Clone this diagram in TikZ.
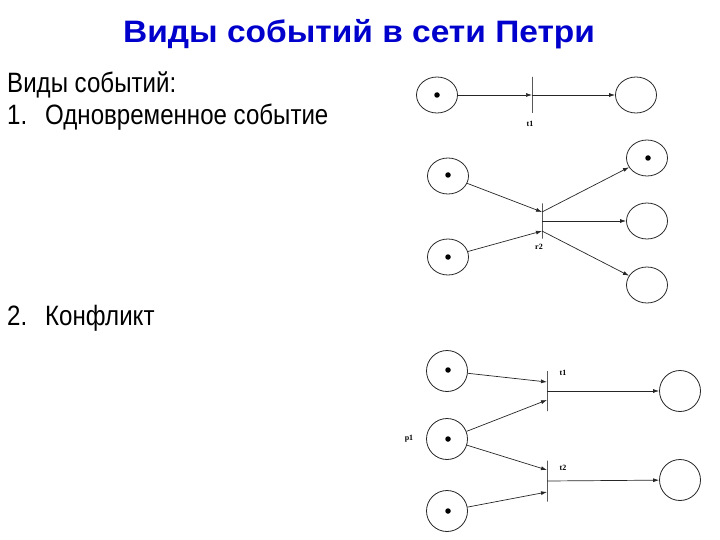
\documentclass[tikz,border=0pt]{standalone}
\usepackage{fontspec}
\setmainfont{Liberation Sans}
\newfontfamily\labfont{Liberation Serif}
\newfontfamily\bodyfont[FakeStretch=0.86]{Liberation Sans}
\newfontfamily\titlefont[FakeStretch=1.08]{Liberation Sans}
\usetikzlibrary{arrows.meta,shapes.geometric,calc}
\definecolor{titleblue}{RGB}{0,0,204}
\begin{document}
\begin{tikzpicture}[x=1pt,y=-1pt,
  place/.style={draw=black!85,line width=0.8pt,ellipse,minimum width=41pt,minimum height=36pt,inner sep=0pt},
  cplace/.style={draw=black!85,line width=0.8pt,circle,minimum size=41pt,inner sep=0pt},
  token/.style={fill=black,circle,minimum size=5.5pt,inner sep=0pt},
  bar/.style={draw=black,line width=0.8pt,rectangle,minimum width=0pt,inner sep=0pt},
  arc/.style={draw=black!85,line width=0.7pt,-{Latex[length=6pt,width=4pt]}},
  lab/.style={font=\labfont\bfseries\fontsize{8}{9}\selectfont,inner sep=0pt},
  body/.style={font=\bodyfont\fontsize{28}{32}\selectfont,anchor=base west,inner sep=0pt}]
\useasboundingbox (0,0) rectangle (720,540);
% title and text
\node[font=\titlefont\bfseries\fontsize{31}{36}\selectfont,text=titleblue,anchor=base,inner sep=0pt] (title) at (359,43) {Виды событий в сети Петри};
\node[body] (h) at (7,93) {Виды событий:};
\node[body] (n1) at (7,125) {1.};
\node[body] (s1) at (45,125) {Одновременное событие};
\node[body] (n2) at (7,325) {2.};
\node[body] (s2) at (45,325) {Конфликт};
% net 1
\node[place] (a1) at (437,95) {};
\node[token] (a1t) at (437,95) {};
\node[bar,minimum height=36pt] (t1) at (532,95) {};
\node[place] (a2) at (636,95) {};
\node[lab] (t1l) at (530,124) {t1};
\draw[arc] (a1) -- (t1.center);
\draw[arc] (t1.center) -- (a2);
% net 2
\node[place] (b1) at (448,176) {};
\node[token] (b1t) at (448,175) {};
\node[place] (b2) at (448,257) {};
\node[token] (b2t) at (448,257) {};
\node[bar,minimum height=35pt] (t2) at (542,221) {};
\node[place] (c1) at (647,158) {};
\node[token] (c1t) at (648,158) {};
\node[place] (c2) at (647,221) {};
\node[place] (c3) at (647,285) {};
\node[lab] (t2l) at (539,247) {r2};
\coordinate (t2a) at ($(t2.center)+(0,-9)$);
\coordinate (t2b) at ($(t2.center)+(0,10)$);
\draw[arc] (b1) -- (t2a);
\draw[arc] (b2) -- (t2b);
\draw[arc] (t2a) -- (c1);
\draw[arc] (t2.center) -- (c2);
\draw[arc] (t2b) -- (c3);
% net 3
\node[cplace] (d1) at (447,371) {};
\node[token] (d1t) at (448,370) {};
\node[cplace] (p1) at (447,439) {};
\node[token] (p1t) at (448,439) {};
\node[cplace] (d3) at (447,511) {};
\node[token] (d3t) at (448,511) {};
\node[bar,minimum height=40pt] (u1) at (547,391) {};
\node[bar,minimum height=41pt] (u2) at (547,481) {};
\node[cplace] (e1) at (680,391) {};
\node[cplace] (e2) at (680,480) {};
\node[lab] (u1l) at (563,373) {t1};
\node[lab] (u2l) at (563,468) {t2};
\node[lab] (p1l) at (409,439) {p1};
\draw[arc] (d1) -- ($(u1.center)+(0,-9)$);
\draw[arc] (p1) -- ($(u1.center)+(0,9)$);
\draw[arc] (p1) -- ($(u2.center)+(0,-11)$);
\draw[arc] (d3) -- ($(u2.center)+(0,11)$);
\draw[arc] (u1.center) -- (e1);
\draw[arc] (u2.center) -- (e2);
\end{tikzpicture}
\end{document}
